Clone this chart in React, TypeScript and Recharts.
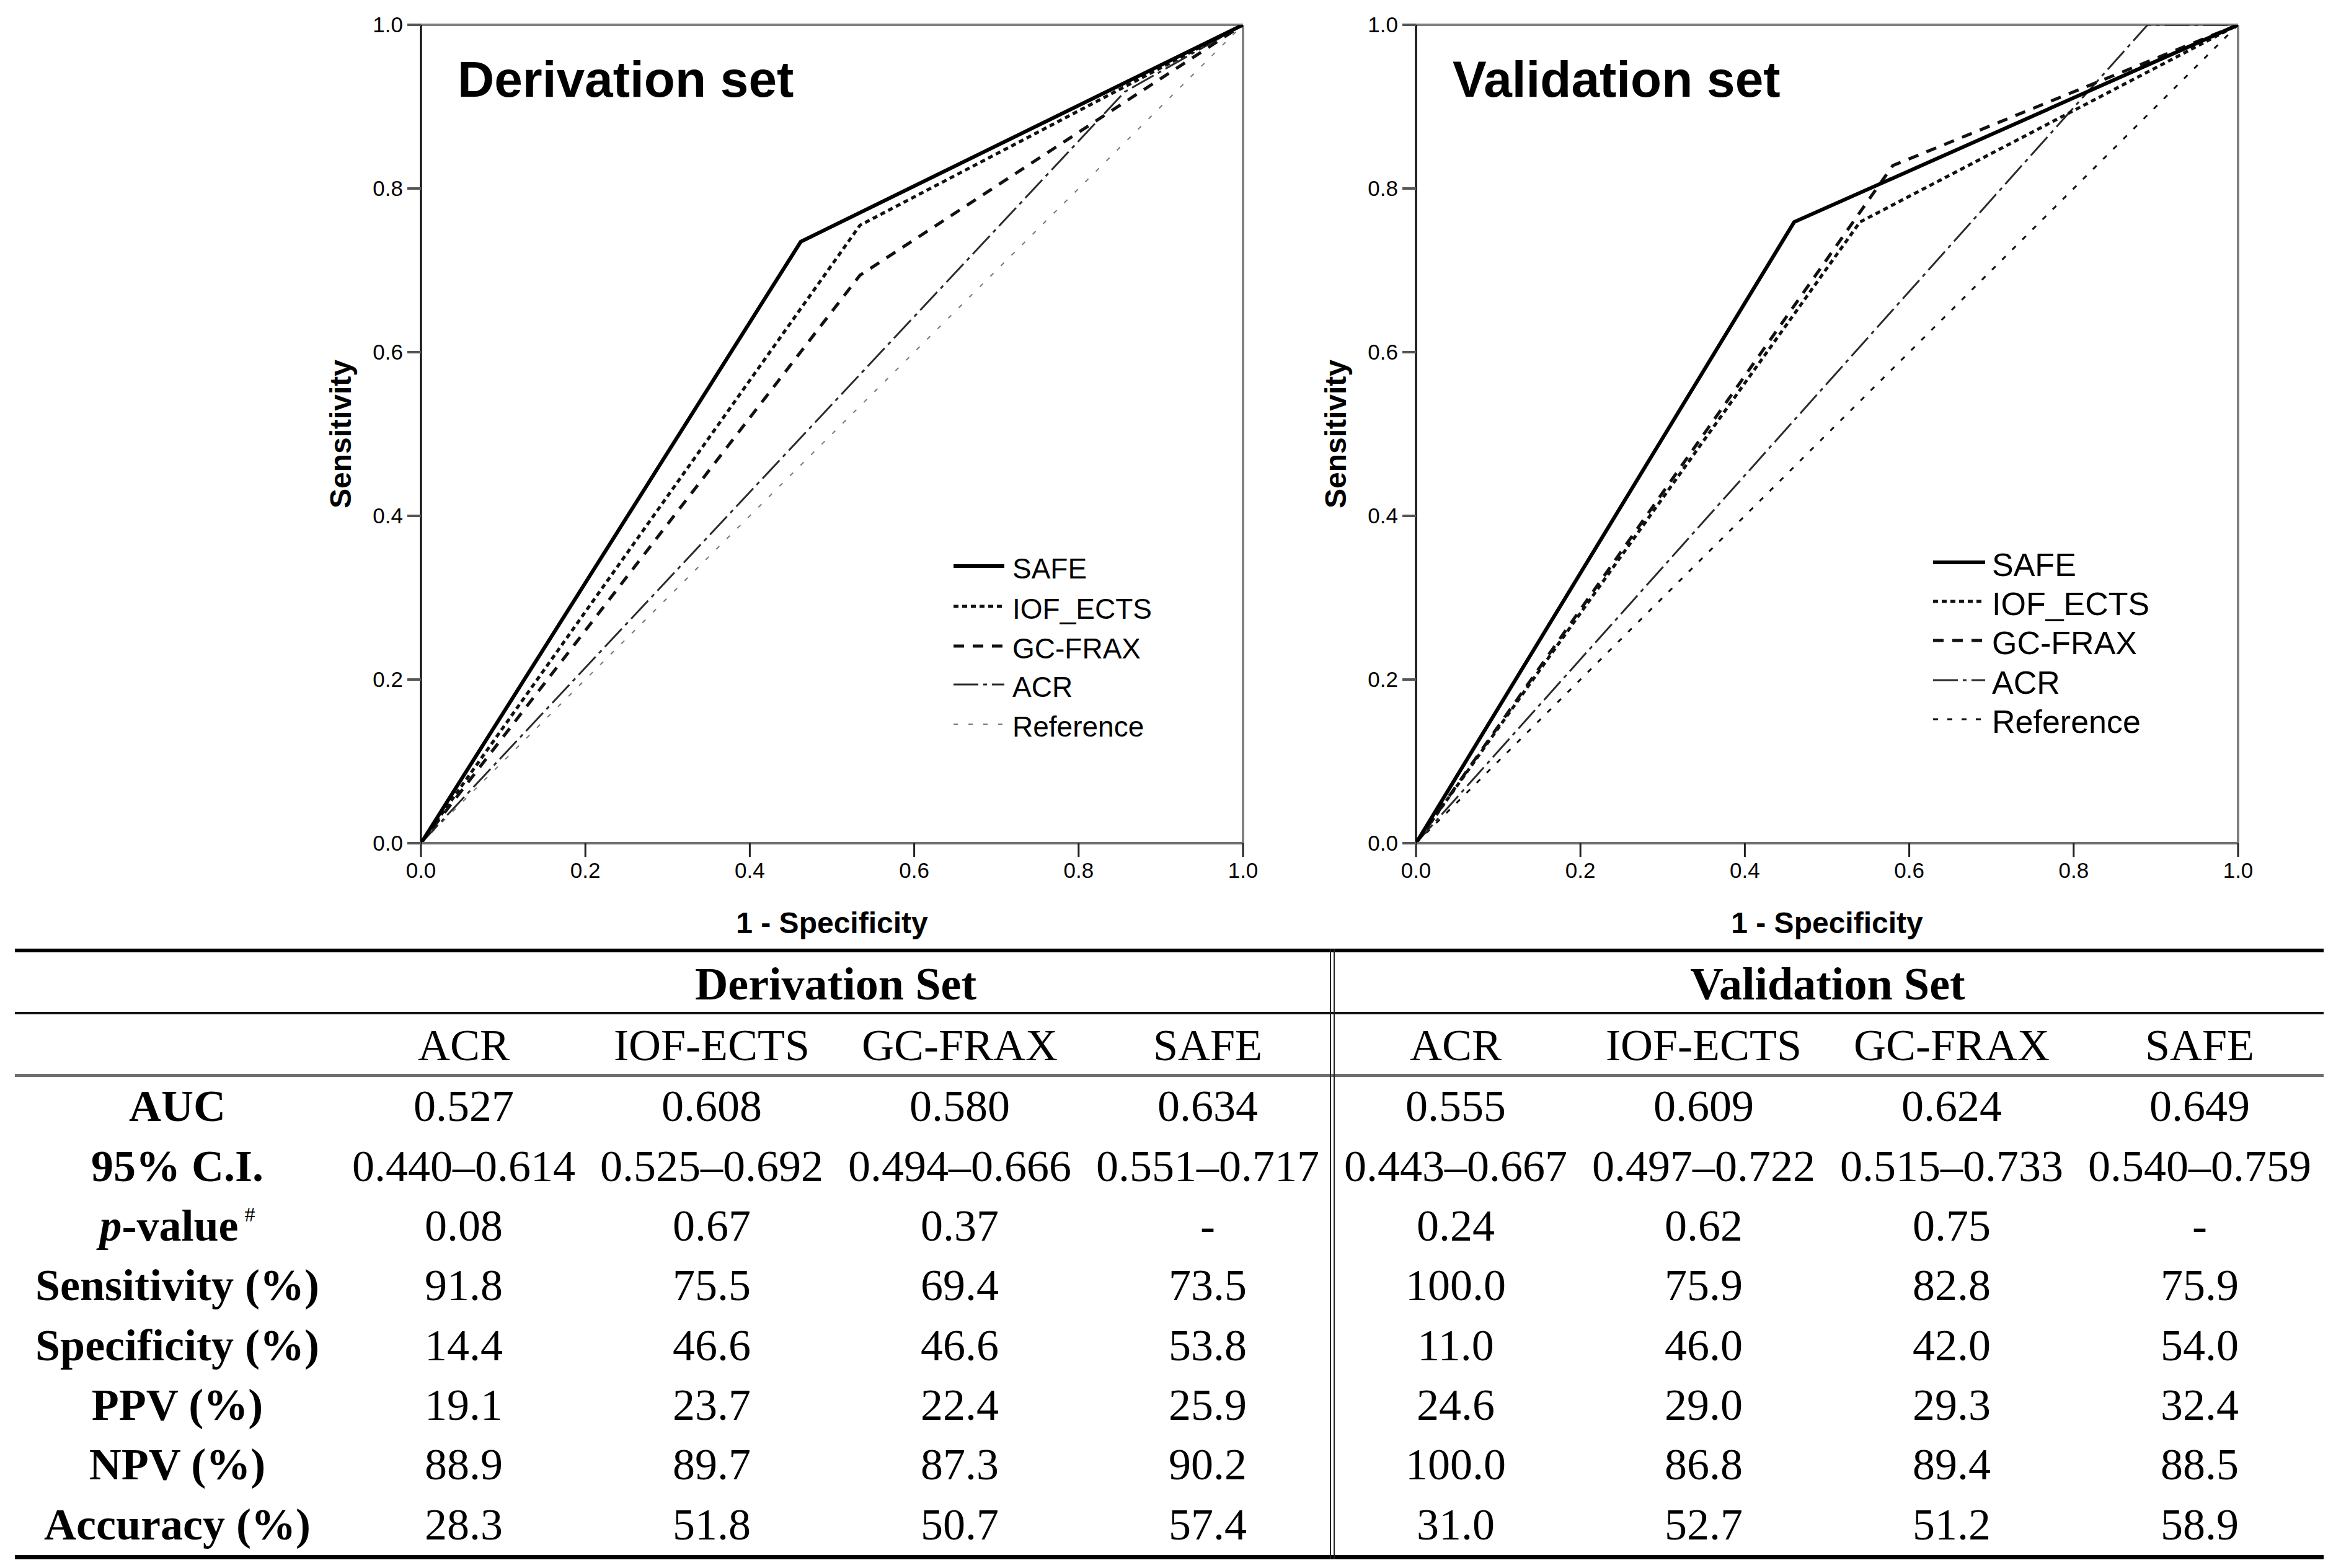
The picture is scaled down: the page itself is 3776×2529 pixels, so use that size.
import React from 'react';
import { LineChart, Line, XAxis, YAxis, ReferenceLine } from 'recharts';

// ---------- ROC data (1 - specificity, sensitivity) ----------
const derivSAFE = [{ x: 0, y: 0 }, { x: 0.462, y: 0.735 }, { x: 1, y: 1 }];
const derivIOF = [{ x: 0, y: 0 }, { x: 0.534, y: 0.755 }, { x: 1, y: 1 }];
const derivGC = [{ x: 0, y: 0 }, { x: 0.534, y: 0.694 }, { x: 1, y: 1 }];
const derivACR = [{ x: 0, y: 0 }, { x: 0.856, y: 0.918 }, { x: 1, y: 1 }];

const validSAFE = [{ x: 0, y: 0 }, { x: 0.46, y: 0.759 }, { x: 1, y: 1 }];
const validIOF = [{ x: 0, y: 0 }, { x: 0.54, y: 0.759 }, { x: 1, y: 1 }];
const validGC = [{ x: 0, y: 0 }, { x: 0.58, y: 0.828 }, { x: 1, y: 1 }];
const validACR = [{ x: 0, y: 0 }, { x: 0.89, y: 1 }, { x: 1, y: 1 }];

const referenceLine = [{ x: 0, y: 0 }, { x: 1, y: 1 }];

const axisTicks = [0, 0.2, 0.4, 0.6, 0.8, 1];
const seriesNames = ['SAFE', 'IOF_ECTS', 'GC-FRAX', 'ACR', 'Reference'];

// ---------- Table data ----------
const modelNames = ['ACR', 'IOF-ECTS', 'GC-FRAX', 'SAFE'];
const setNames = ['Derivation Set', 'Validation Set'];
const rowLabels = ['AUC', '95% C.I.', 'p-value', 'Sensitivity (%)', 'Specificity (%)', 'PPV (%)', 'NPV (%)', 'Accuracy (%)'];

const derivAUC = ['0.527', '0.608', '0.580', '0.634'];
const derivCI = ['0.440–0.614', '0.525–0.692', '0.494–0.666', '0.551–0.717'];
const derivP = ['0.08', '0.67', '0.37', '-'];
const derivSens = ['91.8', '75.5', '69.4', '73.5'];
const derivSpec = ['14.4', '46.6', '46.6', '53.8'];
const derivPPV = ['19.1', '23.7', '22.4', '25.9'];
const derivNPV = ['88.9', '89.7', '87.3', '90.2'];
const derivAcc = ['28.3', '51.8', '50.7', '57.4'];

const validAUC = ['0.555', '0.609', '0.624', '0.649'];
const validCI = ['0.443–0.667', '0.497–0.722', '0.515–0.733', '0.540–0.759'];
const validP = ['0.24', '0.62', '0.75', '-'];
const validSens = ['100.0', '75.9', '82.8', '75.9'];
const validSpec = ['11.0', '46.0', '42.0', '54.0'];
const validPPV = ['24.6', '29.0', '29.3', '32.4'];
const validNPV = ['100.0', '86.8', '89.4', '88.5'];
const validAcc = ['31.0', '52.7', '51.2', '58.9'];

const derivRows = [derivAUC, derivCI, derivP, derivSens, derivSpec, derivPPV, derivNPV, derivAcc];
const validRows = [validAUC, validCI, validP, validSens, validSpec, validPPV, validNPV, validAcc];

// ---------- styles ----------
const SANS = '"Liberation Sans", Arial, sans-serif';
const SERIF = '"Liberation Serif", "Times New Roman", serif';

type LineStyle = { stroke: string; width: number; dash?: string };

const styleLeft: LineStyle[] = [
  { stroke: '#000', width: 6 },
  { stroke: '#111', width: 5, dash: '8 6' },
  { stroke: '#111', width: 5, dash: '17 14' },
  { stroke: '#2a2a2a', width: 3, dash: '40 8 6 8' },
  { stroke: '#777', width: 2, dash: '7 17' },
];
const styleRight: LineStyle[] = [
  { stroke: '#000', width: 6 },
  { stroke: '#111', width: 5, dash: '8 6' },
  { stroke: '#111', width: 5, dash: '17 14' },
  { stroke: '#2a2a2a', width: 3, dash: '40 8 6 8' },
  { stroke: '#111', width: 3, dash: '8 15' },
];

const PLOT_W = 1326;
const PLOT_H = 1320;
const YAXIS_W = 260;
const XAXIS_H = 256;
const M_TOP = 40;
const M_RIGHT = 40;

function RocChart(props: {
  left: number;
  title: string;
  titleLeft: number;
  curves: { x: number; y: number }[][];
  styles: LineStyle[];
  legendLeft: number;
  legendTop: number[];
  legendFont: number;
  legendLine: number;
  legendGap: number;
}) {
  const width = YAXIS_W + PLOT_W + M_RIGHT;
  const height = M_TOP + PLOT_H + XAXIS_H;
  const fmt = (v: number) => v.toFixed(1);
  return (
    <div style={{ position: 'absolute', left: props.left, top: 0, width, height }}>
      <LineChart width={width} height={height} margin={{ top: M_TOP, right: M_RIGHT, left: 0, bottom: 0 }}>
        <XAxis
          type="number"
          dataKey="x"
          domain={[0, 1]}
          ticks={axisTicks}
          tickFormatter={fmt}
          height={XAXIS_H}
          tickSize={22}
          tickMargin={9}
          axisLine={{ stroke: '#707070', strokeWidth: 4 }}
          tickLine={{ stroke: '#222', strokeWidth: 3 }}
          tick={{ fontSize: 35, fill: '#000', fontFamily: SANS }}
          label={{ value: '1 - Specificity', position: 'center', fontSize: 48, fontWeight: 'bold', fill: '#000', fontFamily: SANS }}
          allowDataOverflow
        />
        <YAxis
          type="number"
          dataKey="y"
          domain={[0, 1]}
          ticks={axisTicks}
          tickFormatter={fmt}
          width={YAXIS_W}
          tickSize={22}
          tickMargin={7}
          axisLine={{ stroke: '#000', strokeWidth: 3 }}
          tickLine={{ stroke: '#555', strokeWidth: 4 }}
          tick={{ fontSize: 35, fill: '#000', fontFamily: SANS }}
          label={{ value: 'Sensitivity', position: 'center', angle: -90, fontSize: 48, fontWeight: 'bold', fill: '#000', fontFamily: SANS }}
          allowDataOverflow
        />
        <ReferenceLine y={1} stroke="#808080" strokeWidth={4} />
        <ReferenceLine x={1} stroke="#808080" strokeWidth={4} />
        {[4, 3, 2, 1, 0].map((i) => (
          <Line
            key={seriesNames[i]}
            name={seriesNames[i]}
            data={props.curves[i]}
            dataKey="y"
            type="linear"
            stroke={props.styles[i].stroke}
            strokeWidth={props.styles[i].width}
            strokeDasharray={props.styles[i].dash}
            dot={false}
            activeDot={false}
            isAnimationActive={false}
          />
        ))}
      </LineChart>
      <div
        style={{
          position: 'absolute',
          left: props.titleLeft - props.left,
          top: 87,
          fontFamily: SANS,
          fontWeight: 'bold',
          fontSize: 82,
          lineHeight: '82px',
          whiteSpace: 'nowrap',
          color: '#000',
        }}
      >
        {props.title}
      </div>
      {seriesNames.map((n, i) => {
        const s = props.styles[i];
        const rowH = props.legendFont;
        return (
          <div
            key={n}
            style={{
              position: 'absolute',
              left: props.legendLeft - props.left,
              top: props.legendTop[i] - rowH / 2 + 4,
              height: rowH,
              display: 'flex',
              alignItems: 'center',
              whiteSpace: 'nowrap',
            }}
          >
            <svg width={props.legendLine} height={rowH} style={{ display: 'block' }}>
              <line
                x1={0}
                x2={props.legendLine}
                y1={rowH / 2 - 4}
                y2={rowH / 2 - 4}
                stroke={s.stroke}
                strokeWidth={s.width}
                strokeDasharray={s.dash}
              />
            </svg>
            <span
              style={{
                marginLeft: props.legendGap,
                fontFamily: SANS,
                fontSize: props.legendFont,
                lineHeight: `${rowH}px`,
                color: '#000',
              }}
            >
              {n}
            </span>
          </div>
        );
      })}
    </div>
  );
}

// ---------- table layout ----------
const T_LEFT = 24;
const T_RIGHT = 3748;
const LABEL_W = 524;
const COL_W = 400;
const ROW_CENTERS = [1784, 1881, 1977, 2073, 2170, 2266, 2362, 2459];
const HEADER_CENTER = 1587;
const COLHEAD_CENTER = 1686;
const LINE_H = 96;

function Cell(props: { left: number; width: number; center: number; bold?: boolean; size?: number; children: React.ReactNode }) {
  return (
    <div
      style={{
        position: 'absolute',
        left: props.left,
        width: props.width,
        top: props.center - LINE_H / 2,
        height: LINE_H,
        lineHeight: `${LINE_H}px`,
        textAlign: 'center',
        fontFamily: SERIF,
        fontSize: props.size || 72,
        fontWeight: props.bold ? 'bold' : 'normal',
        whiteSpace: 'nowrap',
        color: '#000',
      }}
    >
      {props.children}
    </div>
  );
}

function HLine(props: { top: number; h: number; color: string }) {
  return (
    <div style={{ position: 'absolute', left: T_LEFT, width: T_RIGHT - T_LEFT, top: props.top, height: props.h, background: props.color }} />
  );
}

function ResultsTable() {
  const setData = [derivRows, validRows];
  const cells: React.ReactNode[] = [];
  setData.forEach((rows, s) => {
    const base = T_LEFT + LABEL_W + s * 4 * COL_W;
    cells.push(
      <Cell key={`h${s}`} left={base} width={4 * COL_W} center={HEADER_CENTER} bold size={74}>
        {setNames[s]}
      </Cell>
    );
    modelNames.forEach((m, c) => {
      cells.push(
        <Cell key={`m${s}${c}`} left={base + c * COL_W} width={COL_W} center={COLHEAD_CENTER}>
          {m}
        </Cell>
      );
    });
    rows.forEach((vals, r) => {
      vals.forEach((v, c) => {
        cells.push(
          <Cell key={`v${s}${r}${c}`} left={base + c * COL_W} width={COL_W} center={ROW_CENTERS[r]}>
            {v}
          </Cell>
        );
      });
    });
  });
  rowLabels.forEach((lab, r) => {
    cells.push(
      <Cell key={`l${r}`} left={T_LEFT} width={LABEL_W} center={ROW_CENTERS[r]} bold>
        {lab === 'p-value' ? (
          <span>
            <i>p</i>-value<sup style={{ fontSize: 34, fontWeight: 'normal', marginLeft: 10, verticalAlign: 'top', lineHeight: '60px' }}>#</sup>
          </span>
        ) : (
          lab
        )}
      </Cell>
    );
  });
  return (
    <>
      <HLine top={1530} h={6} color="#000" />
      <HLine top={1632} h={4} color="#111" />
      <HLine top={1732} h={5} color="#6f6f6f" />
      <HLine top={2508} h={7} color="#000" />
      <div style={{ position: 'absolute', left: 2145, width: 2, top: 1530, height: 985, background: '#222' }} />
      <div style={{ position: 'absolute', left: 2151, width: 2, top: 1530, height: 985, background: '#222' }} />
      {cells}
    </>
  );
}

export default function App() {
  return (
    <div style={{ position: 'absolute', left: 0, top: 0, width: 3776, height: 2529, background: '#fff', overflow: 'hidden' }}>
      <RocChart
        left={419}
        title="Derivation set"
        titleLeft={738}
        curves={[derivSAFE, derivIOF, derivGC, derivACR, referenceLine]}
        styles={styleLeft}
        legendLeft={1538}
        legendTop={[913, 978, 1042, 1104, 1168]}
        legendFont={46}
        legendLine={82}
        legendGap={13}
      />
      <RocChart
        left={2024}
        title="Validation set"
        titleLeft={2343}
        curves={[validSAFE, validIOF, validGC, validACR, referenceLine]}
        styles={styleRight}
        legendLeft={3118}
        legendTop={[907, 970, 1033, 1097, 1160]}
        legendFont={52}
        legendLine={84}
        legendGap={11}
      />
      <ResultsTable />
    </div>
  );
}
